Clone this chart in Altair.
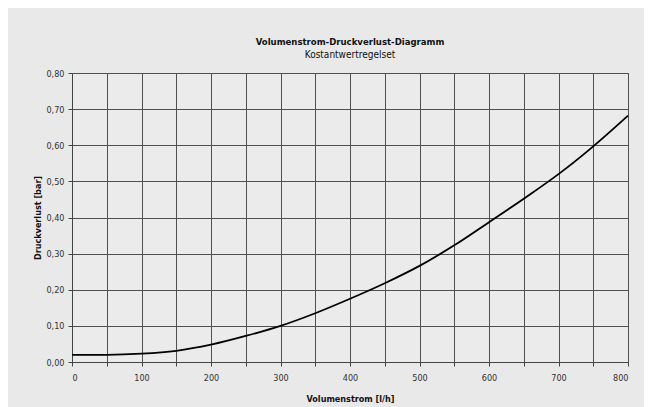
import altair as alt
import pandas as pd

volumenstrom = [0, 50, 100, 150, 200, 250, 300, 350, 400, 450, 500, 550, 600, 650, 700, 750, 800]
druckverlust = [0.020, 0.020, 0.023, 0.031, 0.048, 0.072, 0.100, 0.135, 0.175, 0.218, 0.266, 0.323, 0.387, 0.452, 0.520, 0.597, 0.682]

x_ticks = list(range(0, 801, 50))
y_ticks = [0.0, 0.1, 0.2, 0.3, 0.4, 0.5, 0.6, 0.7, 0.8]

df = pd.DataFrame({"x": volumenstrom, "y": druckverlust})

FONT = "DejaVu Sans Condensed, Liberation Sans Narrow, Liberation Sans, Arial"

line = alt.Chart(df).mark_line(color="black", strokeWidth=1.8, interpolate="monotone").encode(
    x=alt.X("x:Q", scale=alt.Scale(domain=[0, 800], nice=False),
            axis=alt.Axis(values=x_ticks, title="Volumenstrom [l/h]",
                          labelExpr="datum.value % 100 == 0 ? datum.label : ''",
                          labelPadding=7, titlePadding=12, tickSize=4)),
    y=alt.Y("y:Q", scale=alt.Scale(domain=[0, 0.8], nice=False),
            axis=alt.Axis(values=y_ticks, title="Druckverlust [bar]", format=".2f",
                          labelExpr="replace(datum.label, '.', ',')",
                          labelPadding=4, titlePadding=3, tickSize=4)),
)

chart = line.properties(
    width=556,
    height=289,
    title=alt.TitleParams(
        text="Volumenstrom-Druckverlust-Diagramm",
        subtitle="Kostantwertregelset",
        anchor="middle",
        font=FONT, fontSize=9.5, fontWeight="bold", color="#111",
        subtitleFont=FONT, subtitleFontSize=10, subtitleColor="#111",
        subtitlePadding=4, offset=9,
    ),
    autosize=alt.AutoSizeParams(type="none"),
    padding={"left": 64, "top": 65, "right": 16, "bottom": 45},
    background="#e9e9e9",
).configure_view(
    fill="#ebebeb", stroke="#444", strokeWidth=1,
).configure_axis(
    grid=True, gridColor="#505050", gridWidth=1, gridOpacity=1,
    domainColor="#444", tickColor="#444",
    labelFont=FONT, labelFontSize=9, labelColor="#333",
    titleFont=FONT, titleFontSize=9, titleFontWeight="bold", titleColor="#111",
)

chart.save("out.html", embed_options={"renderer": "svg", "actions": False})
